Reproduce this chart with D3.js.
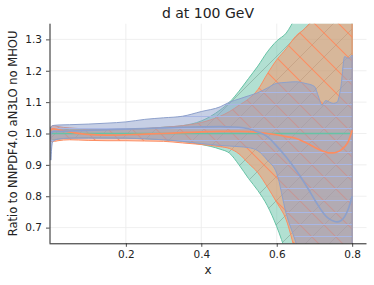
<!DOCTYPE html>
<html><head><meta charset="utf-8">
<script src="https://cdn.jsdelivr.net/npm/d3@7"></script>
<style>body{margin:0;background:#fff}svg{display:block}text{font-family:"DejaVu Sans",sans-serif;fill:#222}</style>
</head><body><svg id="c" width="374" height="285"></svg>
<script>
const xs = [0.001,0.005,0.01,0.02,0.05,0.1,0.15,0.2,0.25,0.3,0.35,0.4,0.45,0.475,0.5,0.525,0.55,0.575,0.6,0.625,0.65,0.675,0.7,0.71,0.72,0.73,0.74,0.75,0.76,0.77,0.78,0.79,0.8];
const greenHigh = [1.01,1.015,1.015,1.015,1.012,1.012,1.012,1.013,1.015,1.02,1.025,1.04,1.075,1.1,1.135,1.175,1.215,1.26,1.295,1.32,1.37,1.42,1.48,1.5,1.53,1.55,1.58,1.6,1.63,1.66,1.69,1.72,1.75];
const greenLow = [0.985,0.98,0.98,0.982,0.985,0.987,0.986,0.985,0.983,0.98,0.975,0.965,0.95,0.937,0.9,0.857,0.818,0.77,0.703,0.62,0.54,0.46,0.4,0.38,0.36,0.34,0.32,0.3,0.28,0.27,0.26,0.25,0.25];
const greenMid = [1,1,1,1,1,1,1,1,1,1,1,1,1,1,1,1,1,1,1,1,1,1,1,1,1,1,1,1,1,1,1,1,1];
const orangeHigh = [1.02,1.025,1.025,1.022,1.018,1.015,1.015,1.015,1.016,1.02,1.025,1.035,1.055,1.07,1.09,1.11,1.14,1.19,1.235,1.27,1.31,1.335,1.37,1.39,1.41,1.43,1.45,1.47,1.5,1.52,1.55,1.57,1.6];
const orangeLow = [0.975,0.975,0.975,0.977,0.98,0.978,0.977,0.977,0.976,0.975,0.97,0.965,0.958,0.952,0.935,0.905,0.875,0.83,0.78,0.725,0.62,0.52,0.45,0.43,0.41,0.39,0.37,0.35,0.34,0.33,0.32,0.31,0.3];
const orangeMid = [1.01,1.015,1.015,1.012,1.005,0.997,0.995,0.996,0.998,1.0,1.003,1.005,1.007,1.007,1.007,1.006,1.004,1.0,0.996,0.99,0.985,0.972,0.956,0.95,0.945,0.941,0.938,0.938,0.941,0.947,0.958,0.975,1.01];
const blueHigh = [1.02,1.025,1.026,1.027,1.028,1.03,1.033,1.037,1.045,1.05,1.055,1.07,1.085,1.1,1.11,1.12,1.13,1.145,1.16,1.163,1.165,1.16,1.15,1.12,1.09,1.105,1.1,1.096,1.1,1.148,1.245,1.24,1.25];
const blueLow = [0.915,0.97,0.978,0.982,0.985,0.985,0.985,0.985,0.983,0.98,0.975,0.968,0.962,0.96,0.958,0.955,0.945,0.915,0.873,0.745,0.655,0.55,0.45,0.42,0.4,0.38,0.36,0.35,0.34,0.33,0.32,0.31,0.3];
const blueMid = [1.0,1.005,1.007,1.007,1.008,1.01,1.012,1.014,1.016,1.018,1.02,1.021,1.022,1.021,1.02,1.015,1.005,0.99,0.96,0.925,0.885,0.84,0.79,0.77,0.752,0.737,0.727,0.721,0.718,0.722,0.735,0.76,0.8];
const xTicks = [0.2,0.4,0.6,0.8];
const yTicks = [0.7,0.8,0.9,1.0,1.1,1.2,1.3];
const title = "d at 100 GeV";
const xLabel = "x";
const yLabel = "Ratio to NNPDF4.0 aN3LO no MHOU";

const svg = d3.select("#c");
const L=49.5, R=366.5, T=23.7, B=243.3;
const x = d3.scaleLinear().domain([-0.0025,0.838]).range([L,R]);
const y = d3.scaleLinear().domain([0.65,1.35]).range([B,T]);

const defs = svg.append("defs");
defs.append("clipPath").attr("id","clip").append("rect").attr("x",L).attr("y",T).attr("width",R-L).attr("height",B-T);
const pG = defs.append("pattern").attr("id","hG").attr("patternUnits","userSpaceOnUse").attr("width",24).attr("height",24);
[-3,21,45].forEach(c=>pG.append("line").attr("x1",c-30).attr("y1",30).attr("x2",c+6).attr("y2",-6).attr("stroke","#5f7a6c").attr("stroke-width",0.6).attr("stroke-opacity",0.6));
const pO = defs.append("pattern").attr("id","hO").attr("patternUnits","userSpaceOnUse").attr("width",24).attr("height",24);
[-21,3,27].forEach(c=>pO.append("line").attr("x1",c-6).attr("y1",-6).attr("x2",c+30).attr("y2",30).attr("stroke","#fc8d62").attr("stroke-width",1.1));
const pB = defs.append("pattern").attr("id","hB").attr("patternUnits","userSpaceOnUse").attr("width",12).attr("height",12);
pB.append("line").attr("x1",-1).attr("y1",8.5).attr("x2",13).attr("y2",8.5).attr("stroke","#a9b7e4").attr("stroke-width",1);

const grid = svg.append("g");
xTicks.forEach(t=>grid.append("line").attr("x1",x(t)).attr("x2",x(t)).attr("y1",T).attr("y2",B).attr("stroke","#ebebeb").attr("stroke-width",0.8));
yTicks.forEach(t=>grid.append("line").attr("x1",L).attr("x2",R).attr("y1",y(t)).attr("y2",y(t)).attr("stroke","#ebebeb").attr("stroke-width",0.8));

const plot = svg.append("g").attr("clip-path","url(#clip)");
const series = [
  {lo:greenLow, hi:greenHigh, mid:greenMid, col:"#66c2a5", hatch:"hG"},
  {lo:orangeLow, hi:orangeHigh, mid:orangeMid, col:"#fc8d62", hatch:"hO"},
  {lo:blueLow, hi:blueHigh, mid:blueMid, col:"#8da0cb", hatch:"hB"}
];
const area = (s)=>d3.area().x((d,i)=>x(xs[i])).y0((d,i)=>y(s.lo[i])).y1((d,i)=>y(s.hi[i])).curve(d3.curveMonotoneX)(xs);
series.forEach(s=>{
  const dd = area(s);
  plot.append("path").attr("d",dd).attr("fill",s.col).attr("fill-opacity",0.5);
  plot.append("path").attr("d",dd).attr("fill","url(#"+s.hatch+")");
  plot.append("path").attr("d",dd).attr("fill","none").attr("stroke",s.col).attr("stroke-width",1);
});
series.forEach(s=>{
  const ln = d3.line().x((d,i)=>x(xs[i])).y((d,i)=>y(s.mid[i])).curve(d3.curveMonotoneX)(xs);
  plot.append("path").attr("d",ln).attr("fill","none").attr("stroke",s.col).attr("stroke-width",1.7);
});

const xa = svg.append("g").attr("transform",`translate(0,${B})`).call(d3.axisBottom(x).tickValues(xTicks).tickFormat(d3.format(".1f")).tickSize(3.5).tickPadding(4));
const ya = svg.append("g").attr("transform",`translate(${L},0)`).call(d3.axisLeft(y).tickValues(yTicks).tickFormat(d3.format(".1f")).tickSize(3.5).tickPadding(4));
[xa,ya].forEach(a=>{
  a.select(".domain").attr("stroke","#222").attr("stroke-width",1);
  a.selectAll(".tick line").attr("stroke","#222").attr("stroke-width",0.8);
  a.selectAll(".tick text").attr("font-size","10.5px").attr("fill","#222").style("font-family","DejaVu Sans");
});
ya.select(".domain").attr("d",`M0.5,${T}V${B}`);
xa.select(".domain").attr("d",`M${L},0.5H${R}`);

svg.append("text").attr("x",(L+R)/2).attr("y",18).attr("text-anchor","middle").attr("font-size","14px").text(title);
svg.append("text").attr("x",(L+R)/2).attr("y",273.5).attr("text-anchor","middle").attr("font-size","12px").text(xLabel);
svg.append("text").attr("transform",`translate(16.5,${(T+B)/2}) rotate(-90)`).attr("text-anchor","middle").attr("font-size","11.5px").text(yLabel);
</script></body></html>
